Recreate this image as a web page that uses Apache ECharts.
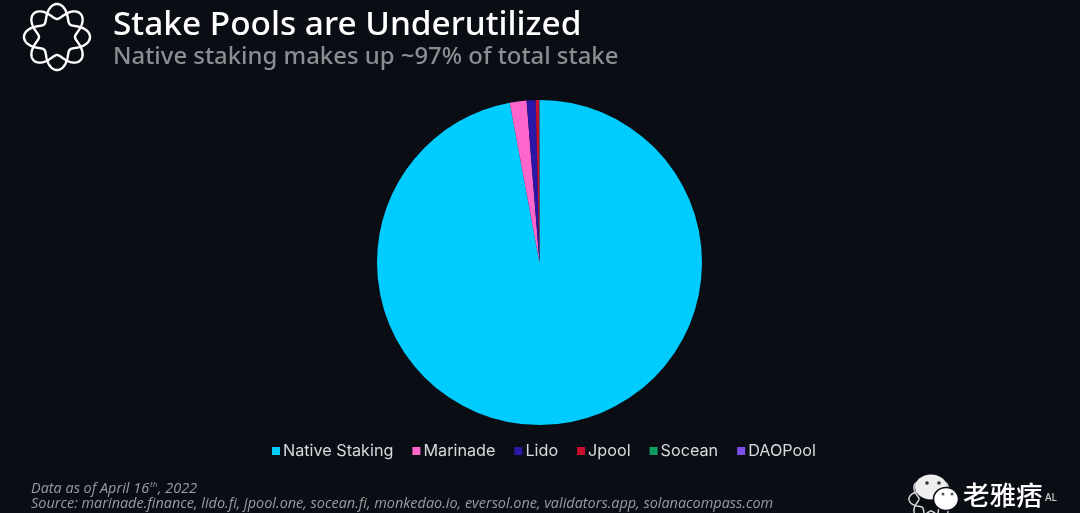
<!DOCTYPE html>
<html><head><meta charset="utf-8">
<script src="https://cdn.jsdelivr.net/npm/echarts@6/dist/echarts.min.js"></script>
<style>html,body{margin:0;padding:0;background:#0a0d14}#c{width:1080px;height:513px}</style>
</head><body><div id="c"></div>
<script>
const categories=["Native Staking","Marinade","Lido","Jpool","Socean","DAOPool"];
const values=[97.07,1.66,0.9,0.32,0.03,0.02];
const colors=["#00CCFF","#FF66CC","#2A16A8","#C8102E","#0F9D62","#7A4FE8"];
const titleText="Stake Pools are Underutilized";
const subtitleText="Native staking makes up ~97% of total stake";
const noteLine1="Data as of April 16";
const noteLine2="Source: marinade.finance, lido.fi, jpool.one, socean.fi, monkedao.io, eversol.one, validators.app, solanacompass.com";
const chart=echarts.init(document.getElementById('c'),null,{renderer:'canvas'});
const ringLogo=(cx,cy,R,A,stroke,w)=>[1,-1].map(sign=>{
  const points=[];
  for(let i=0;i<240;i++){
    const t=i/240*2*Math.PI, r=R+sign*A*Math.cos(4*t);
    points.push([cx+r*Math.sin(t),cy-r*Math.cos(t)]);
  }
  return {type:'polygon',silent:true,shape:{points},style:{fill:'none',stroke,lineWidth:w}};
});
const txt=(x,y,text,font,fill,extra)=>({type:'text',x,y,silent:true,style:Object.assign({text,font,fill,textVerticalAlign:'middle'},extra||{})});
chart.setOption({
  animation:false,
  backgroundColor:'#0a0d14',
  color:colors,
  legend:{
    data:categories,left:267,top:438,itemWidth:8,itemHeight:8,itemGap:19,icon:'rect',
    selectedMode:false,
    textStyle:{color:'#d8dade',fontFamily:'Inter',fontSize:16.2,padding:[0,0,0,-2]}
  },
  series:[{
    type:'pie',center:[539.5,262.5],radius:[0,162.5],startAngle:90,clockwise:true,
    label:{show:false},labelLine:{show:false},silent:true,
    itemStyle:{borderWidth:0},
    data:categories.map((n,i)=>({name:n,value:values[i]}))
  }],
  graphic:[
    ...ringLogo(57,37,25.5,7.5,'#ffffff',2.4),
    txt(113,25,titleText,'500 33.4px "Noto Sans"','#ffffff'),
    txt(113,57,subtitleText,'500 23.9px "Noto Sans"','#8b8d92'),
    txt(31,489,noteLine1,'italic 14.45px "Open Sans"','#9a9ca0'),
    txt(150,485,'th','italic 8px "Open Sans"','#9a9ca0'),
    txt(158,489,', 2022','italic 14.45px "Open Sans"','#9a9ca0'),
    txt(31,504,noteLine2,'italic 14.45px "Open Sans"','#9a9ca0'),
    ...ringLogo(931,499,17,5,'#d8d8d8',1.5),
    {type:'ellipse',silent:true,shape:{cx:931,cy:487,rx:16,ry:12.5},style:{fill:'#eeeeee'}},
    {type:'ellipse',silent:true,shape:{cx:946,cy:499,rx:12.5,ry:11.5},style:{fill:'#ffffff',stroke:'#0a0d14',lineWidth:1.5}},
    {type:'circle',silent:true,shape:{cx:927,cy:483,r:1.8},style:{fill:'#333'}},
    {type:'circle',silent:true,shape:{cx:939,cy:483,r:1.8},style:{fill:'#333'}},
    {type:'circle',silent:true,shape:{cx:943,cy:494,r:1.5},style:{fill:'#555'}},
    {type:'circle',silent:true,shape:{cx:952,cy:494,r:1.5},style:{fill:'#555'}},
    txt(963,495,'老雅痞','500 26.5px "Noto Sans CJK SC"','#ffffff'),
    txt(1045,498,'AL','500 10px "Noto Sans"','#d0d0d0',{letterSpacing:3})
  ]
});
</script></body></html>
